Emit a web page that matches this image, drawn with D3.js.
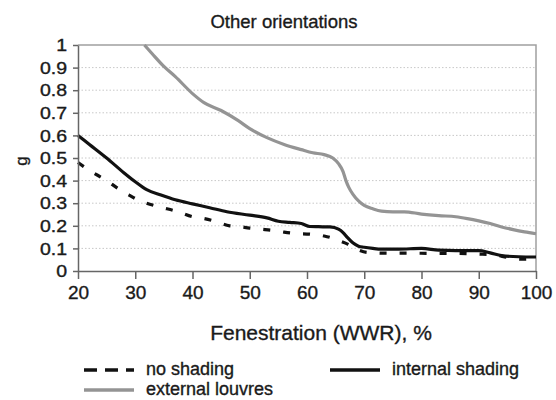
<!DOCTYPE html>
<html>
<head>
<meta charset="utf-8">
<script src="https://cdn.jsdelivr.net/npm/d3@7"></script>
<style>
  body { margin: 0; background: #fff; }
  svg { display: block; font-family: "Liberation Sans", Arial, sans-serif; }
  svg text { stroke: #1a1a1a; stroke-width: 0.35px; }
</style>
</head>
<body>
<svg id="chart" width="556" height="400"></svg>
<script>
// g-value vs window-to-wall ratio, "Other orientations"

const xTicks = [20, 30, 40, 50, 60, 70, 80, 90, 100];
const yTicks = [0, 0.1, 0.2, 0.3, 0.4, 0.5, 0.6, 0.7, 0.8, 0.9, 1];

const noShadingWWR = [20, 22, 25, 27, 29, 30.5, 32, 34, 37.5, 40, 42, 44, 46.5, 48, 50, 52, 54, 56, 58, 60.5, 63, 64.5, 66, 67, 68, 69, 70.5, 72, 74, 78, 82, 86, 90, 93, 95, 97.5, 100];
const noShadingG = [0.48, 0.445, 0.4, 0.365, 0.335, 0.314, 0.3, 0.285, 0.262, 0.24, 0.232, 0.22, 0.2, 0.197, 0.19, 0.185, 0.18, 0.172, 0.166, 0.163, 0.155, 0.145, 0.13, 0.12, 0.105, 0.093, 0.082, 0.08, 0.079, 0.079, 0.078, 0.078, 0.075, 0.07, 0.06, 0.052, 0.055];

const louvresWWR = [31.6, 33, 35, 37, 40, 42, 45, 48, 50, 53, 56, 59, 61, 63, 64.5, 65.5, 66.3, 66.8, 67.3, 68, 69, 70, 71.5, 73, 75, 77, 80, 83, 86, 88, 90, 92, 94, 96, 98, 100];
const louvresG = [1.0, 0.96, 0.905, 0.86, 0.785, 0.745, 0.71, 0.665, 0.63, 0.59, 0.56, 0.537, 0.523, 0.515, 0.5, 0.475, 0.44, 0.4, 0.37, 0.34, 0.31, 0.29, 0.275, 0.265, 0.262, 0.262, 0.252, 0.245, 0.24, 0.232, 0.222, 0.21, 0.195, 0.183, 0.173, 0.165];

const internalWWR = [20, 22, 25, 28, 30, 32, 34.5, 37, 40, 43, 46, 50, 53, 55, 57, 59, 60.5, 62, 64, 65.5, 66.3, 67, 68, 69, 70, 71.5, 73, 76, 80, 83, 86, 90, 92, 94, 97, 100];
const internalG = [0.6, 0.56, 0.5, 0.435, 0.395, 0.36, 0.336, 0.315, 0.297, 0.28, 0.262, 0.247, 0.235, 0.22, 0.215, 0.21, 0.197, 0.196, 0.195, 0.185, 0.17, 0.15, 0.125, 0.11, 0.105, 0.1, 0.097, 0.097, 0.1, 0.092, 0.09, 0.09, 0.08, 0.068, 0.063, 0.062];

const series = [
  { name: "no shading", xs: noShadingWWR, ys: noShadingG, color: "#111", dash: "7,13" },
  { name: "external louvres", xs: louvresWWR, ys: louvresG, color: "#949494", dash: null },
  { name: "internal shading", xs: internalWWR, ys: internalG, color: "#111", dash: null },
];

const svg = d3.select("#chart");
const margin = { top: 45, right: 20, bottom: 129, left: 78 };
const width = 556, height = 400;

const x = d3.scaleLinear().domain([20, 100]).range([margin.left, width - margin.right]);
const y = d3.scaleLinear().domain([0, 1]).range([height - margin.bottom, margin.top]);

// gridlines
svg.append("g")
  .selectAll("line")
  .data(yTicks.filter((d) => d > 0 && d < 1))
  .join("line")
  .attr("x1", x(20)).attr("x2", x(100))
  .attr("y1", (d) => y(d)).attr("y2", (d) => y(d))
  .attr("stroke", "#c8c8c8")
  .attr("stroke-width", 1)
  .attr("stroke-dasharray", "1.5,2");

// plot frame (top/right)
svg.append("path")
  .attr("d", `M${x(20)},${y(1)}H${x(100)}V${y(0)}`)
  .attr("fill", "none")
  .attr("stroke", "#a0a0a0")
  .attr("stroke-width", 1.5);

// lines
const line = d3.line()
  .x((d) => x(d[0]))
  .y((d) => y(d[1]))
  .curve(d3.curveMonotoneX);

series.forEach((s) => {
  const pts = s.xs.map((v, i) => [v, s.ys[i]]);
  svg.append("path")
    .datum(pts)
    .attr("fill", "none")
    .attr("stroke", s.color)
    .attr("stroke-width", 3.2)
    .attr("stroke-dasharray", s.dash)
    .attr("stroke-linejoin", "round")
    .attr("d", line);
});

// axes
const xAxis = svg.append("g")
  .attr("transform", `translate(0,${y(0)})`)
  .call(d3.axisBottom(x).tickValues(xTicks).tickSize(8).tickSizeOuter(0).tickPadding(7));
xAxis.selectAll("text")
  .attr("font-size", 19)
  .attr("fill", "#1a1a1a")
  .attr("font-family", "Liberation Sans, Arial, sans-serif");

const yAxis = svg.append("g")
  .attr("transform", `translate(${x(20)},0)`)
  .call(d3.axisLeft(y).tickValues(yTicks).tickFormat(d3.format("~g")).tickSize(5).tickSizeOuter(0).tickPadding(6));
yAxis.selectAll("text")
  .attr("font-size", 16)
  .attr("fill", "#1a1a1a")
  .attr("dy", "0.36em")
  .attr("font-family", "Liberation Sans, Arial, sans-serif")
  .attr("transform", "scale(1.22,1)")
  .attr("x", -11 / 1.22);

svg.selectAll(".domain, .tick line")
  .attr("stroke", "#666")
  .attr("stroke-width", 1.5);

// texts
svg.append("text")
  .attr("x", 284).attr("y", 28)
  .attr("text-anchor", "middle")
  .attr("font-size", 18.5)
  .attr("fill", "#1a1a1a")
  .text("Other orientations");

svg.append("text")
  .attr("x", 321).attr("y", 340)
  .attr("text-anchor", "middle")
  .attr("font-size", 21)
  .attr("fill", "#1a1a1a")
  .text("Fenestration (WWR), %");

svg.append("text")
  .attr("transform", "translate(27,161) rotate(-90)")
  .attr("text-anchor", "middle")
  .attr("font-size", 17)
  .attr("fill", "#1a1a1a")
  .text("g");

// legend
const legendItems = [
  { s: series[0], lx: 84, ly: 370, dash: "13,8" },
  { s: series[1], lx: 84, ly: 390, dash: null },
  { s: series[2], lx: 330, ly: 370, dash: null },
];

const legend = svg.append("g");
legendItems.forEach((d) => {
  legend.append("line")
    .attr("x1", d.lx).attr("x2", d.lx + 50)
    .attr("y1", d.ly).attr("y2", d.ly)
    .attr("stroke", d.s.color)
    .attr("stroke-width", 3.5)
    .attr("stroke-dasharray", d.dash);
  legend.append("text")
    .attr("x", d.lx + 62).attr("y", d.ly + 5)
    .attr("font-size", 18)
    .attr("fill", "#1a1a1a")
    .text(d.s.name);
});
</script>
</body>
</html>
